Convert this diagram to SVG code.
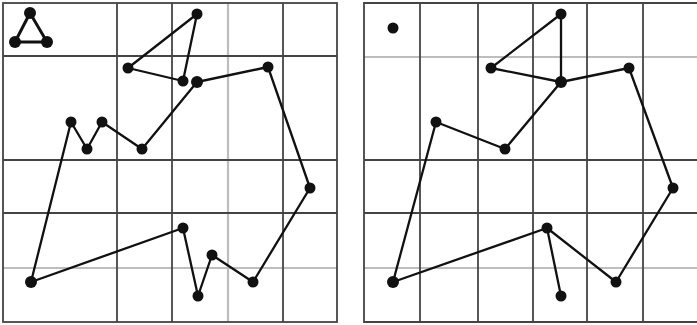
<svg xmlns="http://www.w3.org/2000/svg" width="697" height="325" viewBox="0 0 697 325">
<style>
.g{stroke:#444;stroke-width:1.8;fill:none}
.l{stroke:#bdbdbd;stroke-width:2.2;fill:none}
.e{stroke:#111;stroke-width:2.3;fill:none;stroke-linecap:round;stroke-linejoin:round}
.t{stroke:#111;stroke-width:3;fill:none;stroke-linejoin:round}
.n{fill:#111}
</style>
<rect width="697" height="325" fill="#fff"/>
<g id="grid-left">
<line class="l" x1="228" y1="3" x2="228" y2="322"/>
<line class="l" x1="3" y1="268" x2="337" y2="268"/>
<line class="g" x1="117" y1="3" x2="117" y2="322"/>
<line class="g" x1="172" y1="3" x2="172" y2="322"/>
<line class="g" x1="283" y1="3" x2="283" y2="322"/>
<line class="g" x1="3" y1="56" x2="337" y2="56"/>
<line class="g" x1="3" y1="160" x2="337" y2="160"/>
<line class="g" x1="3" y1="213" x2="337" y2="213"/>
<rect class="g" x="3" y="3" width="334" height="319"/>
</g>
<g id="grid-right">
<line class="l" x1="364" y1="57" x2="697" y2="57"/>
<line class="l" x1="364" y1="268" x2="697" y2="268"/>
<line class="g" x1="420" y1="3" x2="420" y2="322"/>
<line class="g" x1="478" y1="3" x2="478" y2="322"/>
<line class="g" x1="533" y1="3" x2="533" y2="322"/>
<line class="g" x1="587" y1="3" x2="587" y2="322"/>
<line class="g" x1="643" y1="3" x2="643" y2="322"/>
<line class="g" x1="364" y1="160" x2="697" y2="160"/>
<line class="g" x1="364" y1="213" x2="697" y2="213"/>
<polyline class="g" points="700,3 364,3 364,322 700,322"/>
</g>
<g id="connectors">
<polygon class="t" points="30,13 15,42 47,42"/>
<polygon class="e" points="197,14 128,68 183,81"/>
<polygon class="e" points="197,82 268,67 310,188 253,282 212,255 198,296 183,228 31,282 71,122 87,149 102,122 142,149"/>
<polygon class="e" points="561,14 491,68 561,82"/>
<polygon class="e" points="561,82 629,68 673,188 616,282 547,228 393,282 436,122 505,149"/>
<line class="e" x1="547" y1="228" x2="561" y2="296"/>
</g>
<g id="nodes">
<circle id="a1" class="n" cx="30" cy="13" r="6"/>
<circle id="a2" class="n" cx="15" cy="42" r="6"/>
<circle id="a3" class="n" cx="47" cy="42" r="6"/>
<circle id="a4" class="n" cx="197" cy="14" r="5.5"/>
<circle id="a5" class="n" cx="128" cy="68" r="5.5"/>
<circle id="a6" class="n" cx="183" cy="81" r="5.5"/>
<circle id="a7" class="n" cx="197" cy="82" r="6"/>
<circle id="a8" class="n" cx="268" cy="67" r="5.5"/>
<circle id="a9" class="n" cx="310" cy="188" r="5.5"/>
<circle id="a10" class="n" cx="253" cy="282" r="5.5"/>
<circle id="a11" class="n" cx="212" cy="255" r="5.5"/>
<circle id="a12" class="n" cx="198" cy="296" r="5.5"/>
<circle id="a13" class="n" cx="183" cy="228" r="5.5"/>
<circle id="a14" class="n" cx="31" cy="282" r="6"/>
<circle id="a15" class="n" cx="71" cy="122" r="5.5"/>
<circle id="a16" class="n" cx="87" cy="149" r="5.5"/>
<circle id="a17" class="n" cx="102" cy="122" r="5.5"/>
<circle id="a18" class="n" cx="142" cy="149" r="5.5"/>
<circle id="b1" class="n" cx="393" cy="28" r="5.5"/>
<circle id="b2" class="n" cx="561" cy="14" r="5.5"/>
<circle id="b3" class="n" cx="491" cy="68" r="5.5"/>
<circle id="b4" class="n" cx="561" cy="82" r="6"/>
<circle id="b5" class="n" cx="629" cy="68" r="5.5"/>
<circle id="b6" class="n" cx="673" cy="188" r="5.5"/>
<circle id="b7" class="n" cx="616" cy="282" r="5.5"/>
<circle id="b8" class="n" cx="547" cy="228" r="5.5"/>
<circle id="b9" class="n" cx="561" cy="296" r="5.5"/>
<circle id="b10" class="n" cx="393" cy="282" r="6"/>
<circle id="b11" class="n" cx="436" cy="122" r="5.5"/>
<circle id="b12" class="n" cx="505" cy="149" r="5.5"/>
</g>
</svg>
